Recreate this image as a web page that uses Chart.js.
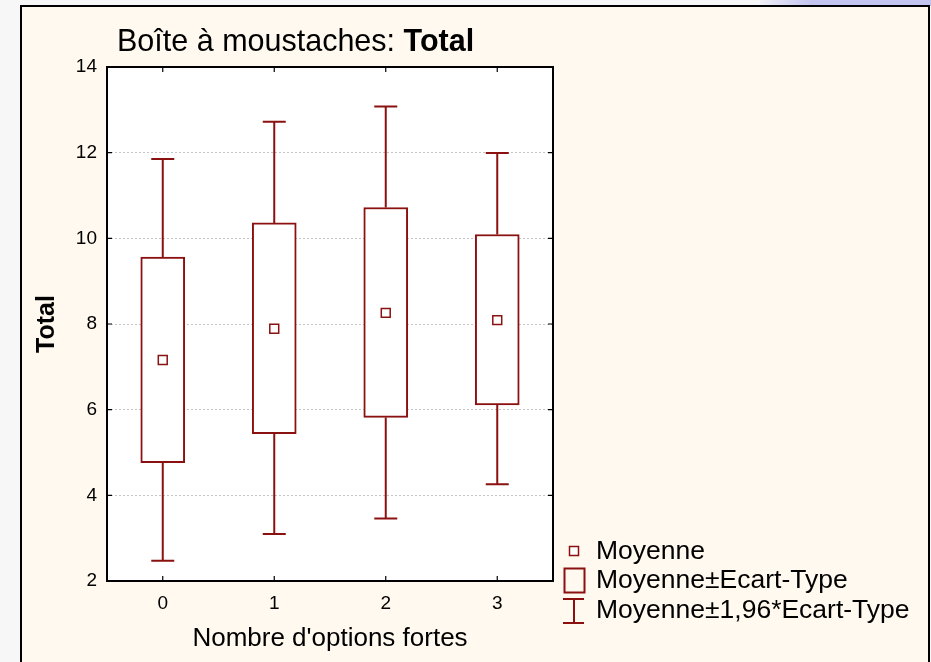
<!DOCTYPE html>
<html>
<head>
<meta charset="utf-8">
<script src="https://cdn.jsdelivr.net/npm/chart.js@4.4.0/dist/chart.umd.min.js"></script>
<style>
    html, body { margin: 0; padding: 0; }
    body { width: 931px; height: 662px; background: #f7f7f7; position: relative; overflow: hidden; font-family: "Liberation Sans", Arial, sans-serif; }
    #topband { position: absolute; left: 760px; top: 0; width: 171px; height: 6px; background: linear-gradient(to right, #f0f0f8, #c4c4f0 30%, #c4c4f0); }
    #frame { position: absolute; left: 20px; top: 5px; width: 906px; height: 670px; border: 2.5px solid #000; background: #fff9ef; }
    #chart-wrap { position: absolute; left: 0; top: 0; width: 931px; height: 662px; }
    #title { position: absolute; left: 117px; top: 25px; font-size: 30.5px; line-height: 1; color: #000; white-space: nowrap; }
    .legend-row { position: absolute; left: 596px; font-size: 26.5px; line-height: 1; color: #000; white-space: nowrap; }
    .icon { position: absolute; }
</style>
</head>
<body>
<div id="topband"></div>
<div id="frame"></div>
<div id="chart-wrap"><canvas id="boxChart" width="931" height="662"></canvas></div>
<div id="title">Boîte à moustaches: <b>Total</b></div>

<!-- Legend -->
<svg class="icon" style="left:560px; top:540px" width="30" height="90">
    <rect x="9.5" y="6.5" width="9" height="9" fill="#fff" stroke="#8b1010" stroke-width="1.5"/>
    <rect x="4.5" y="28.5" width="20" height="24" fill="none" stroke="#8b1010" stroke-width="2"/>
    <line x1="3" y1="59" x2="24" y2="59" stroke="#8b1010" stroke-width="2"/>
    <line x1="14" y1="59" x2="14" y2="83" stroke="#8b1010" stroke-width="2"/>
    <line x1="3" y1="83" x2="24" y2="83" stroke="#8b1010" stroke-width="2"/>
</svg>
<div class="legend-row" style="top:537px">Moyenne</div>
<div class="legend-row" style="top:566px">Moyenne±Ecart-Type</div>
<div class="legend-row" style="top:596px">Moyenne±1,96*Ecart-Type</div>

<script>
// Data
const categories = ['0', '1', '2', '3'];
const means = [7.16, 7.89, 8.26, 8.09];
const sdLow = [4.76, 5.44, 5.82, 6.11];
const sdHigh = [9.56, 10.36, 10.72, 10.09];
const ciLow = [2.47, 3.10, 3.46, 4.26];
const ciHigh = [11.85, 12.72, 13.08, 11.99];
const yTicks = [2, 4, 6, 8, 10, 12, 14];

const RED = '#8b1010';
const FONT = '"Liberation Sans", Arial, sans-serif';

// Whiskers (drawn behind the boxes)
const whiskerPlugin = {
    id: 'whiskers',
    beforeDatasetsDraw(chart) {
        const { ctx, scales: { x, y } } = chart;
        const cap = 11.5;
        ctx.save();
        ctx.strokeStyle = RED;
        ctx.lineWidth = 2;
        categories.forEach((c, i) => {
            const px = x.getPixelForValue(i);
            [[sdHigh[i], ciHigh[i]], [sdLow[i], ciLow[i]]].forEach(([from, to]) => {
                const y1 = y.getPixelForValue(from);
                const y2 = y.getPixelForValue(to);
                ctx.beginPath();
                ctx.moveTo(px, y1);
                ctx.lineTo(px, y2);
                ctx.moveTo(px - cap, y2);
                ctx.lineTo(px + cap, y2);
                ctx.stroke();
            });
        });
        ctx.restore();
    }
};

// Plot border with inside tick marks
const framePlugin = {
    id: 'plotFrame',
    afterDraw(chart) {
        const { ctx, chartArea: a, scales: { x, y } } = chart;
        const tl = 5;
        ctx.save();
        ctx.strokeStyle = '#000';
        ctx.lineWidth = 2;
        ctx.strokeRect(a.left, a.top, a.right - a.left, a.bottom - a.top);
        ctx.lineWidth = 1.2;
        ctx.beginPath();
        yTicks.forEach(v => {
            const py = y.getPixelForValue(v);
            ctx.moveTo(a.left, py); ctx.lineTo(a.left + tl, py);
            ctx.moveTo(a.right, py); ctx.lineTo(a.right - tl, py);
        });
        categories.forEach((c, i) => {
            const px = x.getPixelForValue(i);
            ctx.moveTo(px, a.top); ctx.lineTo(px, a.top + tl);
            ctx.moveTo(px, a.bottom); ctx.lineTo(px, a.bottom - tl);
        });
        ctx.stroke();
        ctx.restore();
    }
};

// White plot background
const plotBgPlugin = {
    id: 'plotBg',
    beforeDraw(chart) {
        const { ctx, chartArea: a } = chart;
        ctx.save();
        ctx.fillStyle = '#fff';
        ctx.fillRect(a.left, a.top, a.right - a.left, a.bottom - a.top);
        ctx.restore();
    }
};

const ctx = document.getElementById('boxChart').getContext('2d');
new Chart(ctx, {
    type: 'bar',
    data: {
        labels: categories,
        datasets: [
            {
                label: 'Moyenne±Ecart-Type',
                data: sdLow.map((lo, i) => [lo, sdHigh[i]]),
                backgroundColor: '#fff',
                borderColor: RED,
                borderWidth: 2,
                borderSkipped: false,
                barThickness: 44,
                order: 2
            },
            {
                type: 'line',
                label: 'Moyenne',
                data: means,
                showLine: false,
                pointStyle: 'rect',
                pointRadius: 6.3,
                pointBorderWidth: 1.5,
                pointBackgroundColor: '#fff',
                pointBorderColor: RED,
                order: 1
            }
        ]
    },
    options: {
        responsive: false,
        animation: false,
        layout: { padding: { left: 0, top: 67, right: 378, bottom: 0 } },
        plugins: {
            legend: { display: false },
            tooltip: { enabled: false }
        },
        scales: {
            x: {
                offset: true,
                grid: { display: false, drawTicks: false },
                border: { display: false },
                ticks: { color: '#000', font: { family: FONT, size: 19 }, padding: 11 },
                title: {
                    display: true,
                    text: "Nombre d'options fortes",
                    color: '#000',
                    font: { family: FONT, size: 26 },
                    padding: { top: 0, bottom: 8 }
                },
                afterFit(s) { s.height = 81; s.paddingLeft = 0; s.paddingRight = 0; }
            },
            y: {
                min: 2,
                max: 14,
                afterBuildTicks(s) { s.ticks = yTicks.map(v => ({ value: v })); },
                grid: { color: '#c4c4c4', drawTicks: false, lineWidth: 1 },
                border: { display: false, dash: [2, 2] },
                ticks: { color: '#000', font: { family: FONT, size: 19 }, padding: 10 },
                title: {
                    display: true,
                    text: 'Total',
                    color: '#000',
                    font: { family: FONT, size: 25, weight: 'bold' },
                    padding: { top: 32, bottom: 0 }
                },
                afterFit(s) { s.width = 107; s.paddingTop = 0; s.paddingBottom = 0; }
            }
        }
    },
    plugins: [plotBgPlugin, whiskerPlugin, framePlugin]
});
</script>
</body>
</html>
